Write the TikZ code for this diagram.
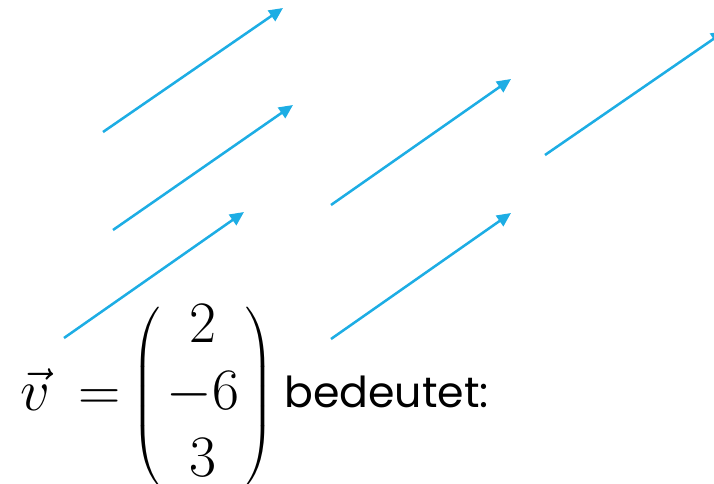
\RequirePackage{fix-cm}
\documentclass[tikz,border=0pt]{standalone}
\usepackage{amsmath}
\usepackage{fontspec}
\newfontfamily\futfont{Poppins}
\usetikzlibrary{arrows.meta}
\definecolor{vblue}{RGB}{29,173,228}
\tikzset{vec/.style={draw=vblue,line width=1.9pt,-{Triangle[length=10.5pt,width=9.5pt]}},
  mth/.style={inner sep=0pt,anchor=base west,font=\fontsize{44}{50}\selectfont}}
\begin{document}
\begin{tikzpicture}[x=0.75pt,y=-0.75pt]
\useasboundingbox (0,0) rectangle (714,484);
\clip (0,0) rectangle (714,484);
\coordinate (a1) at (103,132); \coordinate (b1) at (283,8);
\coordinate (a2) at (113,230); \coordinate (b2) at (293,105);
\coordinate (a3) at (64,338);  \coordinate (b3) at (244,212);
\coordinate (a4) at (331,205); \coordinate (b4) at (511,79);
\coordinate (a5) at (331,339); \coordinate (b5) at (511,213);
\coordinate (a6) at (545,155); \coordinate (b6) at (725,31);
\foreach \i in {1,...,6} \draw[vec] (a\i) -- (b\i);
\node[mth] (v) at (20,411) {$\vec{v}$};
\node[mth] (eq) at (78,411) {$=$};
\node[mth] (m) at (131,411)
  {$\Biggl(\mkern2mu\begin{matrix}2\\-6\\3\end{matrix}\mkern2mu\Biggr)$};
\node[anchor=base west,inner sep=0pt,font=\futfont\fontsize{32}{40}\selectfont] (t) at (284,408) {bedeutet:};
\end{tikzpicture}
\end{document}
